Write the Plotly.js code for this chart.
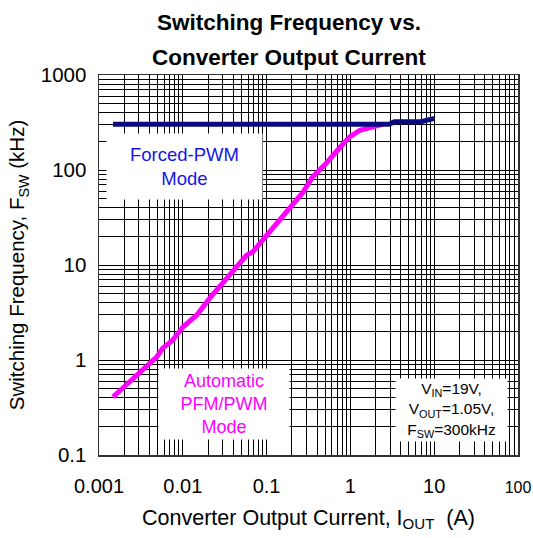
<!DOCTYPE html>
<html>
<head>
<meta charset="utf-8">
<script src="https://cdn.plot.ly/plotly-3.0.1.min.js"></script>
<style>html,body{margin:0;padding:0;background:#fff;}#chart{width:533px;height:538px;}</style>
</head>
<body>
<div id="chart"></div>
<script>
// Forced-PWM mode (navy)
const pwmCurrent = [0.00147, 2.9, 3.34, 7.0, 10];
const pwmFreq    = [303, 303, 322, 322, 350];

// Automatic PFM/PWM mode (magenta)
const autoCurrent = [0.00147, 0.00234, 0.00353, 0.0049, 0.00578, 0.0076, 0.01, 0.0147, 0.021, 0.0299, 0.044, 0.0578, 0.0681, 0.0896, 0.132, 0.188, 0.268, 0.353, 0.518, 0.74, 0.973, 1.3, 1.85, 2.4];
const autoFreq    = [0.408, 0.586, 0.824, 1.08, 1.34, 1.62, 2.22, 2.98, 4.49, 6.47, 10.0, 12.7, 13.7, 18.3, 26.4, 38.8, 57.3, 84.3, 118.5, 170.5, 222, 262, 290, 303];

const xTickVals = [0.001, 0.01, 0.1, 1, 10, 100];
const xTickText = ["0.001", "0.01", "0.1", "1", "10", "<span style='font-size:16px'>100</span>"];
const yTickVals = [0.1, 1, 10, 100, 1000];
const yTickText = ["0.1", "1", "10", "100", "1000"];

const FONT = "Liberation Sans, Arial, Helvetica, sans-serif";

const traces = [
  {x: autoCurrent, y: autoFreq, type: "scatter", mode: "lines",
   line: {color: "#ff00ff", width: 5}, hoverinfo: "skip", showlegend: false},
  {x: pwmCurrent, y: pwmFreq, type: "scatter", mode: "lines",
   line: {color: "#0a0a80", width: 5}, hoverinfo: "skip", showlegend: false}
];

const layout = {
  width: 533, height: 538,
  margin: {l: 99, r: 15, t: 75, b: 83},
  paper_bgcolor: "#fff", plot_bgcolor: "#fff",
  font: {family: FONT, color: "#000", size: 20},
  showlegend: false,
  title: {text: "<b>Switching Frequency vs.</b>", font: {family: FONT, size: 22.5, color: "#000"},
          x: 289/533, xanchor: "center", y: 1 - 22/538, yanchor: "middle", yref: "container"},
  xaxis: {
    type: "log", range: [-3, 2], tickvals: xTickVals, ticktext: xTickText,
    showgrid: true, gridcolor: "#000", gridwidth: 1,
    minor: {dtick: "D1", showgrid: true, gridcolor: "#000", gridwidth: 1, ticks: ""},
    showline: true, linecolor: "#333", linewidth: 1.5, mirror: true,
    ticks: "", ticklabelstandoff: 12, ticklabeloverflow: "allow", tickfont: {size: 20, family: FONT},
    zeroline: false, automargin: false,
    title: {text: "Converter Output Current, I<sub>OUT</sub>\u00a0 (A)", font: {size: 21.5, family: FONT}, standoff: 14}
  },
  yaxis: {
    type: "log", range: [-1, 3], tickvals: yTickVals, ticktext: yTickText,
    showgrid: true, gridcolor: "#000", gridwidth: 1,
    minor: {dtick: "D1", showgrid: true, gridcolor: "#000", gridwidth: 1, ticks: ""},
    showline: true, linecolor: "#333", linewidth: 1.5, mirror: true,
    ticks: "", ticklabelstandoff: 7, tickfont: {size: 20.5, family: FONT},
    zeroline: false, automargin: false,
    title: {text: "Switching Frequency, F<sub>SW</sub> (kHz)", font: {size: 20.5, family: FONT}, standoff: 10}
  },
  annotations: [
    {text: "<b>Converter Output Current</b>", xref: "paper", yref: "paper",
     x: (289-99)/419, y: (455-58)/380, xanchor: "center", yanchor: "middle",
     showarrow: false, font: {family: FONT, size: 22.5, color: "#000"}},
    {text: "Forced-PWM<br>Mode", xref: "paper", yref: "paper",
     x: (184-99)/419, y: (455-166)/380, xanchor: "center", yanchor: "middle",
     width: 155, height: 65, bgcolor: "#fff", borderpad: 0, showarrow: false,
     font: {family: FONT, size: 18.5, color: "#1515e6"}},
    {text: "Automatic<br>PFM/PWM<br>Mode", xref: "paper", yref: "paper",
     x: (224-99)/419, y: (455-404)/380, xanchor: "center", yanchor: "middle",
     width: 130, height: 70, bgcolor: "#fff", borderpad: 0, showarrow: false,
     font: {family: FONT, size: 18, color: "#ff00ff"}},
    {text: "V<sub>IN</sub>=19V,<br>V<sub>OUT</sub>=1.05V,<br>F<sub>SW</sub>=300kHz", xref: "paper", yref: "paper",
     x: (451-99)/419, y: (455-410)/380, xanchor: "center", yanchor: "middle",
     width: 111, height: 62, bgcolor: "#fff", borderpad: 0, showarrow: false,
     font: {family: FONT, size: 15.5, color: "#000"}}
  ]
};

Plotly.newPlot("chart", traces, layout, {staticPlot: true, displayModeBar: false});
</script>
</body>
</html>
